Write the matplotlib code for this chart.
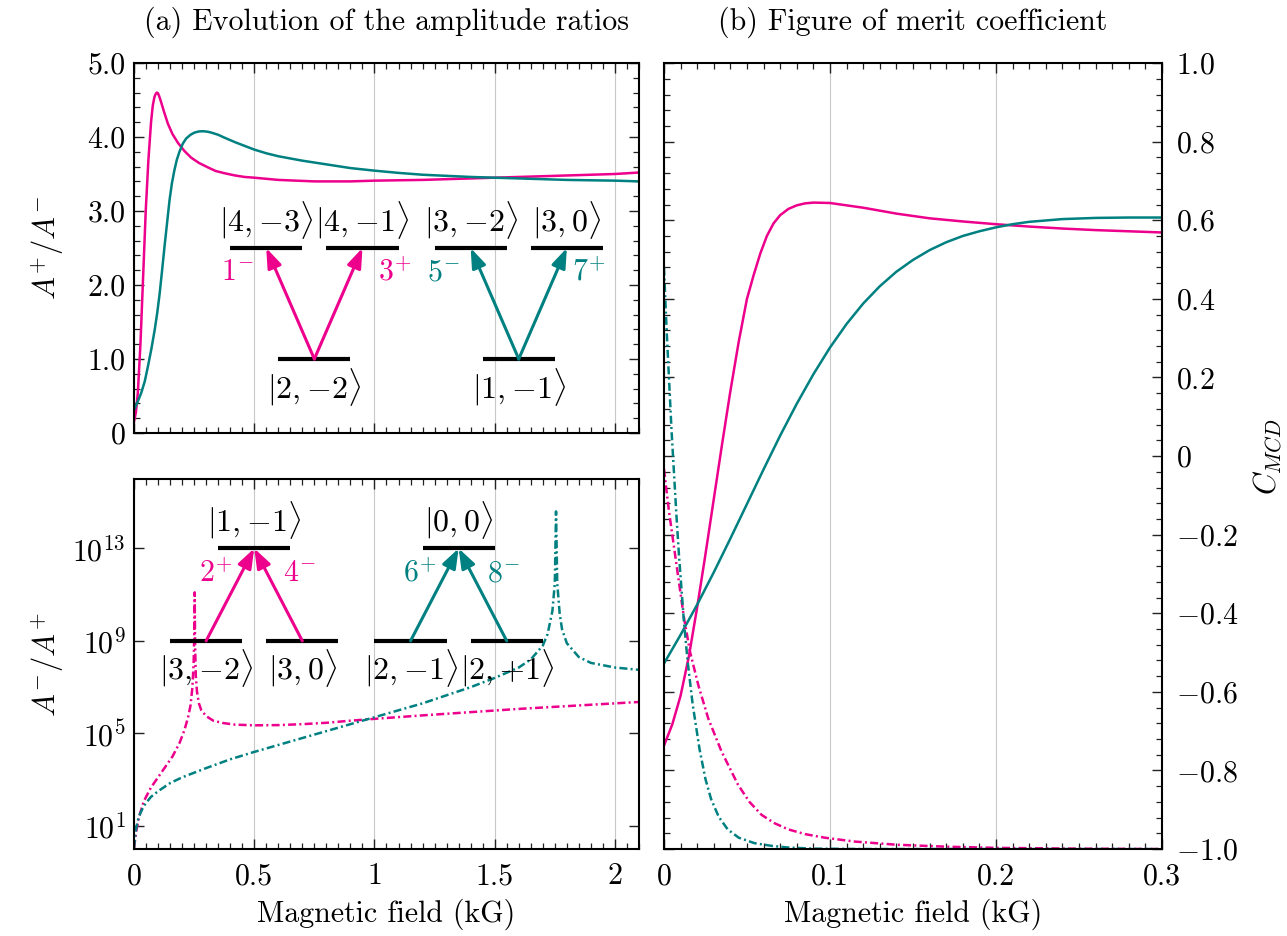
import numpy as np
import matplotlib
matplotlib.use("Agg")
import matplotlib.pyplot as plt
from matplotlib.ticker import MultipleLocator, FixedLocator, NullLocator, FuncFormatter

# couleurs des deux transitions
PINK = "#EC008C"
TEAL = "#008080"

# (a) haut : A+/A- en fonction du champ (kG)
ratio_pink_x = [0.0, 0.008, 0.016, 0.027, 0.038, 0.049, 0.060, 0.071, 0.078, 0.085, 0.090,
                0.095, 0.100, 0.105, 0.113, 0.125, 0.141, 0.160, 0.183, 0.210, 0.238,
                0.270, 0.307, 0.340, 0.377, 0.420, 0.46, 0.50, 0.60, 0.75, 0.90, 1.00,
                1.20, 1.40, 1.60, 1.80, 2.00, 2.10]
ratio_pink_y = [0.15, 0.28, 0.54, 1.21, 2.11, 3.01, 3.69, 4.20, 4.42, 4.54, 4.58,
                4.60, 4.59, 4.55, 4.47, 4.34, 4.18, 4.04, 3.92, 3.81, 3.72,
                3.65, 3.59, 3.54, 3.51, 3.48, 3.46, 3.45, 3.42, 3.40, 3.40, 3.41,
                3.42, 3.44, 3.46, 3.48, 3.50, 3.52]
ratio_teal_x = [0.0, 0.015, 0.030, 0.045, 0.058, 0.072, 0.086, 0.097, 0.107, 0.117, 0.127,
                0.138, 0.148, 0.158, 0.168, 0.178, 0.189, 0.203, 0.217, 0.235, 0.252,
                0.270, 0.287, 0.305, 0.321, 0.350, 0.377, 0.420, 0.46, 0.50, 0.55,
                0.60, 0.70, 0.80, 0.90, 1.00, 1.10, 1.20, 1.40, 1.60, 1.80, 2.00, 2.10]
ratio_teal_y = [0.31, 0.42, 0.54, 0.70, 0.90, 1.13, 1.39, 1.63, 1.89, 2.20, 2.52,
                2.85, 3.15, 3.38, 3.55, 3.69, 3.80, 3.91, 3.98, 4.03, 4.06,
                4.075, 4.078, 4.072, 4.06, 4.03, 3.99, 3.93, 3.88, 3.83, 3.78,
                3.74, 3.68, 3.63, 3.58, 3.545, 3.515, 3.49, 3.46, 3.44, 3.42, 3.41, 3.40]

# (a) bas : log10(A-/A+)
inv_pink_x = [0.0, 0.01, 0.02, 0.04, 0.07, 0.10, 0.13, 0.16, 0.19, 0.21, 0.225, 0.235,
              0.243, 0.248, 0.251, 0.2525, 0.254, 0.257, 0.262, 0.27, 0.28, 0.30,
              0.33, 0.37, 0.42, 0.50, 0.60, 0.70, 0.80, 0.90, 1.00, 1.20, 1.40,
              1.60, 1.80, 2.00, 2.10]
inv_pink_log = [0.05, 0.8, 1.35, 2.05, 2.65, 3.1, 3.55, 4.0, 4.6, 5.15, 5.7, 6.2,
                7.0, 8.0, 9.5, 11.1, 9.0, 7.5, 6.8, 6.3, 6.0, 5.75,
                5.55, 5.45, 5.38, 5.35, 5.36, 5.40, 5.46, 5.55, 5.63, 5.78, 5.92,
                6.06, 6.18, 6.30, 6.36]
inv_teal_x = [0.0, 0.005, 0.01, 0.02, 0.04, 0.07, 0.10, 0.15, 0.20, 0.30, 0.40, 0.50,
              0.60, 0.70, 0.80, 0.90, 1.00, 1.10, 1.20, 1.30, 1.40, 1.50, 1.60,
              1.65, 1.70, 1.72, 1.74, 1.75, 1.755, 1.76, 1.77, 1.78, 1.80, 1.85,
              1.90, 2.00, 2.10]
inv_teal_log = [0.05, 0.6, 0.95, 1.4, 1.85, 2.25, 2.5, 2.85, 3.1, 3.5, 3.88, 4.2,
                4.5, 4.8, 5.1, 5.4, 5.7, 6.0, 6.3, 6.65, 7.0, 7.4, 7.85,
                8.2, 8.8, 9.3, 10.3, 11.5, 14.6, 11.5, 10.2, 9.5, 8.9, 8.3,
                8.05, 7.85, 7.75]

# (b) coefficient C_MCD
cmcd_pink_x = [0.0, 0.005, 0.01, 0.015, 0.02, 0.025, 0.03, 0.035, 0.04, 0.045, 0.05,
               0.054, 0.058, 0.062, 0.066, 0.070, 0.075, 0.080, 0.085, 0.09, 0.10,
               0.12, 0.14, 0.16, 0.18, 0.20, 0.22, 0.24, 0.26, 0.28, 0.30]
cmcd_pink = [-0.737, -0.683, -0.61, -0.51, -0.385, -0.25, -0.11, 0.03, 0.165, 0.29, 0.40,
             0.46, 0.515, 0.56, 0.592, 0.613, 0.629, 0.638, 0.643, 0.645, 0.644,
             0.632, 0.617, 0.605, 0.597, 0.590, 0.584, 0.579, 0.575, 0.572, 0.569]
cmcd_teal_x = [0.0, 0.01, 0.02, 0.03, 0.04, 0.05, 0.06, 0.07, 0.08, 0.09, 0.10, 0.11,
               0.12, 0.13, 0.14, 0.15, 0.16, 0.17, 0.18, 0.19, 0.20, 0.21, 0.22, 0.24,
               0.26, 0.28, 0.30]
cmcd_teal = [-0.528, -0.455, -0.378, -0.296, -0.210, -0.122, -0.034, 0.052, 0.133, 0.208,
             0.276, 0.336, 0.388, 0.432, 0.469, 0.499, 0.524, 0.544, 0.560, 0.572,
             0.582, 0.590, 0.596, 0.603, 0.606, 0.607, 0.607]
cmcd_pink_dd_x = [0.0, 0.003, 0.006, 0.009, 0.012, 0.0157, 0.0207, 0.0267, 0.0347, 0.0447,
                  0.0515, 0.0588, 0.0665, 0.0749, 0.085, 0.0967, 0.115, 0.14, 0.17, 0.20,
                  0.25, 0.30]
cmcd_pink_dd = [-0.033, -0.14, -0.23, -0.32, -0.41, -0.498, -0.583, -0.668, -0.752, -0.837,
                -0.88, -0.913, -0.934, -0.950, -0.962, -0.971, -0.981, -0.989, -0.994, -0.997,
                -0.999, -1.0]
cmcd_teal_dd_x = [0.0, 0.0015, 0.003, 0.0045, 0.006, 0.0075, 0.009, 0.0105, 0.012, 0.0143,
                  0.0173, 0.0214, 0.025, 0.0284, 0.033, 0.0384, 0.045, 0.0545, 0.065,
                  0.0745, 0.09, 0.12, 0.30]
cmcd_teal_dd = [0.48, 0.33, 0.20, 0.07, -0.04, -0.15, -0.25, -0.335, -0.42, -0.524,
                -0.632, -0.745, -0.822, -0.873, -0.918, -0.950, -0.971, -0.985, -0.992,
                -0.996, -0.999, -1.0, -1.0]

# schémas de niveaux (kets, transitions)
top_levels = [(0.40, 0.70, 2.5, r"$|4,{-}3\rangle$"), (0.80, 1.10, 2.5, r"$|4,{-}1\rangle$"),
              (1.25, 1.55, 2.5, r"$|3,{-}2\rangle$"), (1.65, 1.95, 2.5, r"$|3,0\rangle$"),
              (0.60, 0.90, 1.0, r"$|2,{-}2\rangle$"), (1.45, 1.75, 1.0, r"$|1,{-}1\rangle$")]
top_arrows = [((0.75, 1.0), (0.55, 2.5), PINK), ((0.75, 1.0), (0.95, 2.5), PINK),
              ((1.60, 1.0), (1.40, 2.5), TEAL), ((1.60, 1.0), (1.80, 2.5), TEAL)]
top_tags = [(0.43, 2.17, r"$1^{-}$", PINK), (1.086, 2.17, r"$3^{+}$", PINK),
            (1.287, 2.17, r"$5^{-}$", TEAL), (1.891, 2.17, r"$7^{+}$", TEAL)]
bot_levels = [(0.15, 0.45, 1e9, r"$|3,{-}2\rangle$"), (0.55, 0.85, 1e9, r"$|3,0\rangle$"),
              (1.00, 1.30, 1e9, r"$|2,{-}1\rangle$"), (1.40, 1.70, 1e9, r"$|2,{+}1\rangle$"),
              (0.35, 0.65, 1e13, r"$|1,{-}1\rangle$"), (1.20, 1.50, 1e13, r"$|0,0\rangle$")]
bot_arrows = [((0.30, 1e9), (0.50, 1e13), PINK), ((0.70, 1e9), (0.50, 1e13), PINK),
              ((1.15, 1e9), (1.35, 1e13), TEAL), ((1.55, 1e9), (1.35, 1e13), TEAL)]
bot_tags = [(0.341, 10**11.92, r"$2^{+}$", PINK), (0.687, 10**11.92, r"$4^{-}$", PINK),
            (1.19, 10**11.92, r"$6^{+}$", TEAL), (1.538, 10**11.92, r"$8^{-}$", TEAL)]

FS = 21.5
plt.rcParams.update({
    "font.family": "serif",
    "font.serif": ["cmr10"],
    "mathtext.fontset": "cm",
    "axes.formatter.use_mathtext": True,
    "font.size": FS,
})

DD = (0, (3.2, 1.3, 0.8, 1.3))
LW = 1.8

fig = plt.figure(figsize=(12.87, 9.36), dpi=100)
ax_top = fig.add_axes([0.1041, 0.5374, 0.3924, 0.3953])
ax_bot = fig.add_axes([0.1041, 0.0929, 0.3924, 0.3953])
ax_r = fig.add_axes([0.5159, 0.0929, 0.3869, 0.8397])


def style(ax):
    ax.tick_params(which="both", direction="in", top=True, right=True, labelsize=FS,
                   color="#222222")
    ax.tick_params(which="major", length=7, width=1.0, pad=6)
    ax.tick_params(axis="x", which="major", pad=10)
    ax.tick_params(which="minor", length=4.5, width=0.9)
    for s in ax.spines.values():
        s.set_linewidth(1.5)
    ax.grid(True, axis="x", which="major", color="#c8c8c8", lw=0.8)
    ax.set_axisbelow(True)


def diagram(ax, levels, arrows, tags, lab_off):
    for x0, x1, y, lab in levels:
        ax.plot([x0, x1], [y, y], color="black", lw=3, solid_capstyle="butt", zorder=4)
        ax.text((x0 + x1) / 2, lab_off(y), lab, ha="center", va="center", fontsize=23, zorder=5)
    for start, end, c in arrows:
        ax.annotate("", xy=end, xytext=start, zorder=5,
                    arrowprops=dict(arrowstyle="-|>,head_length=0.55,head_width=0.2",
                                    color=c, lw=2.2, shrinkA=0, shrinkB=0))
    for x, y, lab, c in tags:
        ax.text(x, y, lab, color=c, ha="center", va="center", fontsize=FS, zorder=5)


# --- (a) haut
ax = ax_top
style(ax)
ax.plot(ratio_pink_x, ratio_pink_y, color=PINK, lw=LW)
ax.plot(ratio_teal_x, ratio_teal_y, color=TEAL, lw=LW)
ax.set_xlim(0, 2.1)
ax.set_ylim(0, 5)
ax.xaxis.set_major_locator(MultipleLocator(0.5))
ax.xaxis.set_minor_locator(MultipleLocator(0.05))
ax.yaxis.set_major_locator(MultipleLocator(1))
ax.yaxis.set_minor_locator(MultipleLocator(0.2))
ax.yaxis.set_major_formatter(FuncFormatter(lambda v, _: "0" if v == 0 else f"{v:.1f}"))
ax.tick_params(labelbottom=False)
ax.set_ylabel(r"$A^{+}/A^{-}$", fontsize=22)
ax.yaxis.set_label_coords(-0.135, 0.5)
ax.set_title("(a) Evolution of the amplitude ratios", fontsize=FS, pad=24)
diagram(ax, top_levels, top_arrows, top_tags,
        lambda y: y + 0.37 if y > 2 else y - 0.38)

# --- (a) bas
ax = ax_bot
style(ax)
ax.set_yscale("log")
ax.plot(inv_pink_x, 10 ** np.array(inv_pink_log), color=PINK, lw=LW, linestyle=DD)
ax.plot(inv_teal_x, 10 ** np.array(inv_teal_log), color=TEAL, lw=LW, linestyle=DD)
ax.set_xlim(0, 2.1)
ax.set_ylim(1, 1e16)
ax.xaxis.set_major_locator(MultipleLocator(0.5))
ax.xaxis.set_minor_locator(MultipleLocator(0.05))
ax.xaxis.set_major_formatter(FuncFormatter(lambda v, _: f"{v:g}"))
ax.yaxis.set_major_locator(FixedLocator([1e1, 1e5, 1e9, 1e13]))
ax.yaxis.set_minor_locator(NullLocator())
ax.yaxis.set_major_formatter(FuncFormatter(lambda v, _: rf"$10^{{{int(round(np.log10(v)))}}}$"))
ax.set_ylabel(r"$A^{-}/A^{+}$", fontsize=22)
ax.yaxis.set_label_coords(-0.135, 0.5)
ax.set_xlabel("Magnetic field (kG)", fontsize=FS, labelpad=6)
diagram(ax, bot_levels, bot_arrows, bot_tags,
        lambda y: y * 10 ** 1.2 if y > 1e10 else y / 10 ** 1.2)

# --- (b)
ax = ax_r
style(ax)
ax.plot(cmcd_pink_x, cmcd_pink, color=PINK, lw=LW)
ax.plot(cmcd_teal_x, cmcd_teal, color=TEAL, lw=LW)
ax.plot(cmcd_pink_dd_x, cmcd_pink_dd, color=PINK, lw=LW, linestyle=DD)
ax.plot(cmcd_teal_dd_x, cmcd_teal_dd, color=TEAL, lw=LW, linestyle=DD)
ax.set_xlim(0, 0.3)
ax.set_ylim(-1, 1)
ax.xaxis.set_major_locator(MultipleLocator(0.1))
ax.xaxis.set_minor_locator(MultipleLocator(0.01))
ax.yaxis.set_major_locator(MultipleLocator(0.2))
ax.yaxis.set_minor_locator(MultipleLocator(0.04))
ax.xaxis.set_major_formatter(FuncFormatter(lambda v, _: "0" if abs(v) < 1e-9 else f"{v:.1f}"))
ax.yaxis.set_major_formatter(FuncFormatter(lambda v, _: "$0$" if abs(v) < 1e-9 else f"${v:.1f}$"))
ax.tick_params(labelleft=False, labelright=True)
ax.tick_params(axis="y", which="major", pad=10)
ax.yaxis.set_label_position("right")
ax.set_ylabel(r"$C_{MCD}$", fontsize=22)
ax.yaxis.set_label_coords(1.18, 0.5)
ax.set_xlabel("Magnetic field (kG)", fontsize=FS, labelpad=6)
ax.set_title("(b) Figure of merit coefficient", fontsize=FS, pad=24)

fig.savefig("out.png", dpi=100)
